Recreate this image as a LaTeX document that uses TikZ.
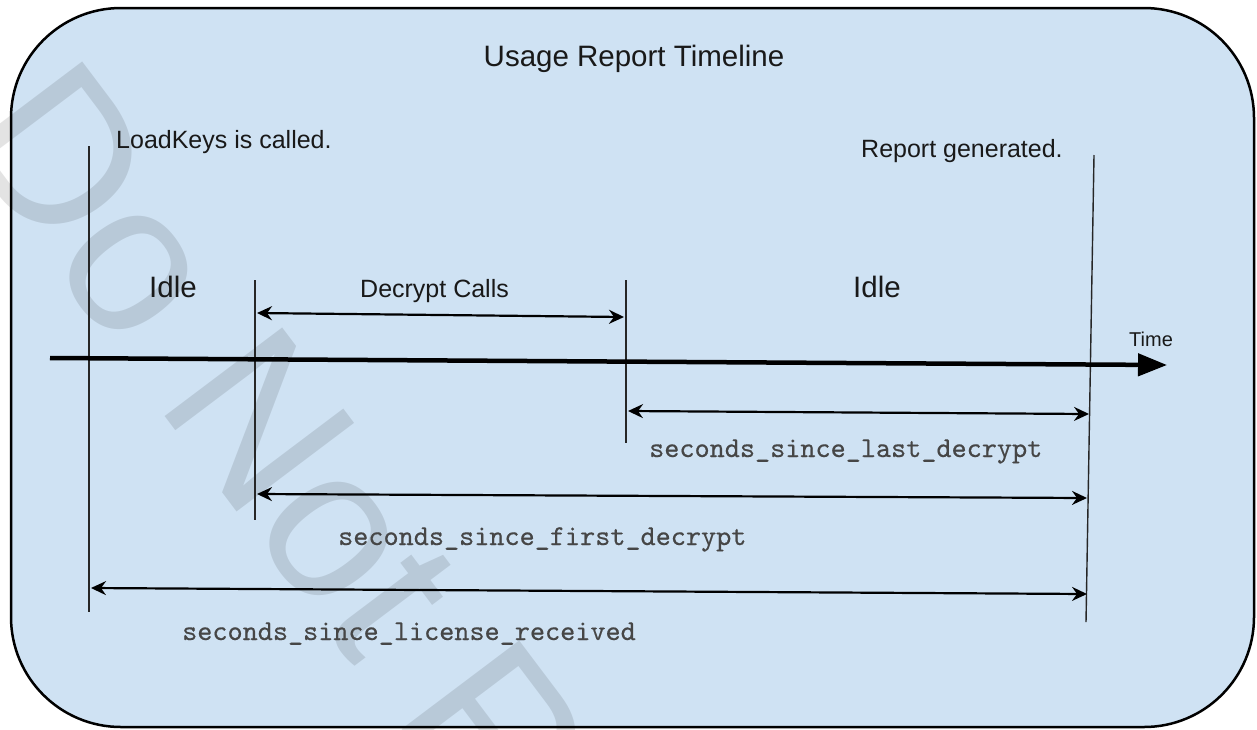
\documentclass[tikz,border=0pt]{standalone}
\usepackage{fontspec}
\setmainfont{Liberation Sans}
\newfontfamily\labmono{lmmono10-regular}[Extension=.otf, FakeBold=0.4]
\usetikzlibrary{arrows.meta}
\definecolor{boxfill}{RGB}{207,226,243}
\definecolor{labgray}{RGB}{70,70,70}
\definecolor{txt}{RGB}{25,25,25}
\begin{document}
\begin{tikzpicture}[x=1pt,y=1pt,
  lbl/.style={inner sep=0pt, anchor=base west, text=txt, font=\fontsize{25}{30}\selectfont},
  idlelbl/.style={lbl, font=\fontsize{29.5}{34}\selectfont},
  mono/.style={inner sep=0pt, anchor=base west, text=labgray, font=\labmono\fontsize{28.8}{32}\selectfont},
  vline/.style={draw=black!85, line width=1.4pt},
  span/.style={draw=black, line width=2.2pt, {Stealth[length=15pt,width=14pt,inset=5pt]}-{Stealth[length=15pt,width=14pt,inset=5pt]}},
  axis/.style={draw=black, line width=4.5pt, -{Triangle[length=29pt,width=22pt]}},
]
\useasboundingbox (0,0) rectangle (1257,-729);
\node[draw=black, line width=2.5pt, fill=boxfill, rounded corners=110pt, minimum width=1243pt, minimum height=719pt, inner sep=0pt] (frame) at (632.5,-367.5) {};
% watermark
\node[inner sep=0pt, anchor=base west, rotate=-53, text=black, text opacity=0.11, font=\fontsize{214}{214}\selectfont] (wm) at (-45.4,-136.1) {Do Not R};
% title
\node[inner sep=0pt, anchor=base, text=txt, font=\fontsize{29.5}{34}\selectfont] (title) at (634,-66) {Usage Report Timeline};
% marker lines
\coordinate (aT) at (89,-146); \coordinate (aB) at (89,-612);
\coordinate (bT) at (255,-280); \coordinate (bB) at (255,-520);
\coordinate (cT) at (626,-280); \coordinate (cB) at (626,-443);
\coordinate (dT) at (1094,-155); \coordinate (dB) at (1086,-622);
\draw[vline] (aT) -- (aB);
\draw[vline] (bT) -- (bB);
\draw[vline] (cT) -- (cB);
\draw[vline] (dT) -- (dB);
% time axis
\coordinate (t0) at (50,-358); \coordinate (t1) at (1167,-365);
\draw[axis] (t0) -- (t1);
% spans
\coordinate (s1a) at (257,-313); \coordinate (s1b) at (624,-317);
\coordinate (s2a) at (628,-411); \coordinate (s2b) at (1089,-414);
\coordinate (s3a) at (257,-494); \coordinate (s3b) at (1087,-498);
\coordinate (s4a) at (91,-588);  \coordinate (s4b) at (1087,-594);
\draw[span] (s1a) -- (s1b);
\draw[span] (s2a) -- (s2b);
\draw[span] (s3a) -- (s3b);
\draw[span] (s4a) -- (s4b);
% labels
\node[lbl] (lk) at (116,-148) {LoadKeys is called.};
\node[lbl] (rg) at (861,-157) {Report generated.};
\node[idlelbl] (idle1) at (149,-297) {Idle};
\node[idlelbl] (idle2) at (853,-297) {Idle};
\node[lbl] (dc) at (360,-297) {Decrypt Calls};
\node[lbl, font=\fontsize{20}{24}\selectfont] (time) at (1129,-346) {Time};
\node[mono] (m1) at (649,-457) {seconds\_since\_last\_decrypt};
\node[mono] (m2) at (338,-545) {seconds\_since\_first\_decrypt};
\node[mono] (m3) at (182,-640) {seconds\_since\_license\_received};
\end{tikzpicture}
\end{document}
